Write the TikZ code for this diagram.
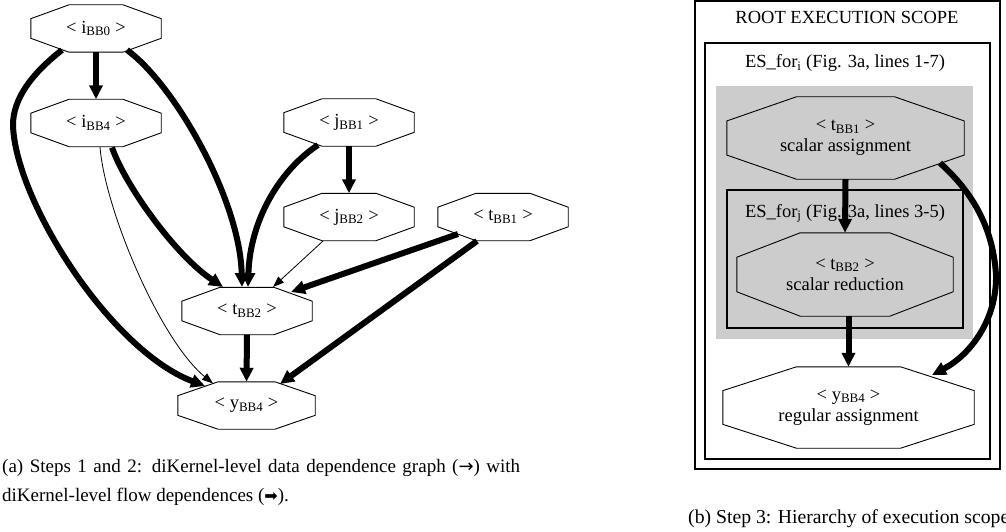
\documentclass[tikz,border=0pt]{standalone}
\usepackage{fontspec}
\setmainfont{Liberation Serif}
\newfontfamily\dejavu{DejaVu Sans}
\usetikzlibrary{arrows.meta,calc}
\pgfdeclarelayer{background}
\pgfsetlayers{background,main}
\definecolor{scopegray}{HTML}{CCCCCC}
\begin{document}
\begin{tikzpicture}[x=1pt,y=-1pt,
  lbl/.style={font=\fontsize{18.5}{21}\selectfont, inner sep=0pt, align=center},
  octo/.style={lbl, minimum width=130pt, minimum height=47pt},
  octline/.style={draw=black, line width=0.9pt},
  flow/.style={line width=6pt, -{Triangle[length=14pt,width=13pt]}},
  dep/.style={line width=0.8pt, -{Triangle[length=11pt,width=8pt]}},
  scopebox/.style={draw=black, line width=1.2pt},
  capt/.style={font=\fontsize{19}{29}\selectfont, inner sep=0pt, anchor=base west}
]
\useasboundingbox (0,0) rectangle (1006,532);
\clip (0,0) rectangle (1006,532);

% ---------- left graph nodes ----------
\node[octo] (ib0) at (96,28.5) {< i\textsubscript{BB0} >};
\node[octo] (ib4) at (96,123) {< i\textsubscript{BB4} >};
\node[octo] (jb1) at (349,122.5) {< j\textsubscript{BB1} >};
\node[octo] (jb2) at (349,217) {< j\textsubscript{BB2} >};
\node[octo] (tb1) at (503,217) {< t\textsubscript{BB1} >};
\node[octo] (tb2) at (247,311) {< t\textsubscript{BB2} >};
\node[octo, minimum width=137pt] (yb4) at (246.5,405.5) {< y\textsubscript{BB4} >};

% ---------- right hierarchy ----------
\node[lbl, anchor=base] (rootlbl) at (847,24) {ROOT EXECUTION SCOPE};
\node[lbl, anchor=base] (esilbl) at (845,68) {ES\_for\textsubscript{i} (Fig. 3a, lines 1-7)};
\node[lbl, anchor=base] (esjlbl) at (845,217) {ES\_for\textsubscript{j} (Fig. 3a, lines 3-5)};
\node[lbl, minimum width=237pt, minimum height=82pt] (rt1) at (845.5,138) {< t\textsubscript{BB1} >\\scalar assignment};
\node[lbl, minimum width=216pt, minimum height=83pt] (rt2) at (845,274.5) {< t\textsubscript{BB2} >\\scalar reduction};
\node[lbl, minimum width=251pt, minimum height=81pt] (ry4) at (848.5,407.5) {< y\textsubscript{BB4} >\\regular assignment};

% ---------- backgrounds: scopes and octagons ----------
\begin{pgfonlayer}{background}
  \draw[scopebox] (695,1) rectangle (1000,469);
  \draw[scopebox] (705,43) rectangle (990,459);
  \fill[scopegray] (716,86) rectangle (973,339);
  \draw[scopebox, fill=scopegray] (727,190) rectangle (963,328);
  \foreach \n/\f in {ib0/white, ib4/white, jb1/white, jb2/white, tb1/white, tb2/white, yb4/white, rt1/scopegray, rt2/scopegray, ry4/white}
    \draw[octline, fill=\f]
      ($(\n.north west)!0.293!(\n.north east)$) -- ($(\n.north west)!0.707!(\n.north east)$)
      -- ($(\n.north east)!0.293!(\n.south east)$) -- ($(\n.north east)!0.707!(\n.south east)$)
      -- ($(\n.south east)!0.293!(\n.south west)$) -- ($(\n.south east)!0.707!(\n.south west)$)
      -- ($(\n.south west)!0.293!(\n.north west)$) -- ($(\n.south west)!0.707!(\n.north west)$)
      -- cycle;
\end{pgfonlayer}

% ---------- left edges ----------
\draw[flow] (ib0.south) -- (ib4.north);
\draw[flow] ([shift={(-34,21.5)}]ib0.center) .. controls (30,75) and (13,100) .. (13,125)
  .. controls (15,200) and (110,350) .. ([shift={(-41.5,-19.5)}]yb4.center);
\draw[dep] ([shift={(4,24)}]ib4.center) .. controls (105,210) and (160,340) .. ([shift={(-33.5,-22)}]yb4.center);
\draw[flow] ([shift={(31,21.5)}]ib0.center) .. controls (175,85) and (240,200) .. ([shift={(-5,-24)}]tb2.center);
\draw[flow] ([shift={(16,24.5)}]ib4.center) .. controls (125,185) and (175,255) .. ([shift={(-24,-24)}]tb2.center);
\draw[flow] ([shift={(-31,22.5)}]jb1.center) .. controls (280,170) and (250,220) .. ([shift={(1,-24)}]tb2.center);
\draw[flow] (jb1.south) -- (jb2.north);
\draw[dep] ([shift={(-26,24)}]jb2.center) -- ([shift={(26,-24)}]tb2.center);
\draw[flow] ([shift={(-45,17)}]tb1.center) -- ([shift={(44,-19)}]tb2.center);
\draw[flow] ([shift={(-26,24)}]tb1.center) -- ([shift={(33.5,-21.5)}]yb4.center);
\draw[flow] (tb2.south) -- (yb4.north);

% ---------- right edges ----------
\draw[flow] (rt1.south) -- (rt2.north);
\draw[flow] (rt2.south -| ry4.north) -- (ry4.north);
\draw[flow] ([shift={(94.5,25)}]rt1.center) .. controls (970,190) and (993,225) .. (996,275)
  .. controls (997,320) and (970,355) .. ([shift={(83.5,-32.5)}]ry4.center);

% ---------- captions ----------
\node[capt] (capa1) at (2,472) {\makebox[518pt][s]{(a) Steps 1 and 2: diKernel-level data dependence graph ({\dejavu\fontsize{18}{18}\selectfont →}) with}};
\node[capt] (capa2) at (2,501) {diKernel-level flow dependences ({\dejavu\fontsize{16}{16}\selectfont ➡}).};
\node[capt, font=\fontsize{19.7}{29}\selectfont] (capb) at (688,523) {(b) Step 3: Hierarchy of execution scopes};
\end{tikzpicture}
\end{document}
